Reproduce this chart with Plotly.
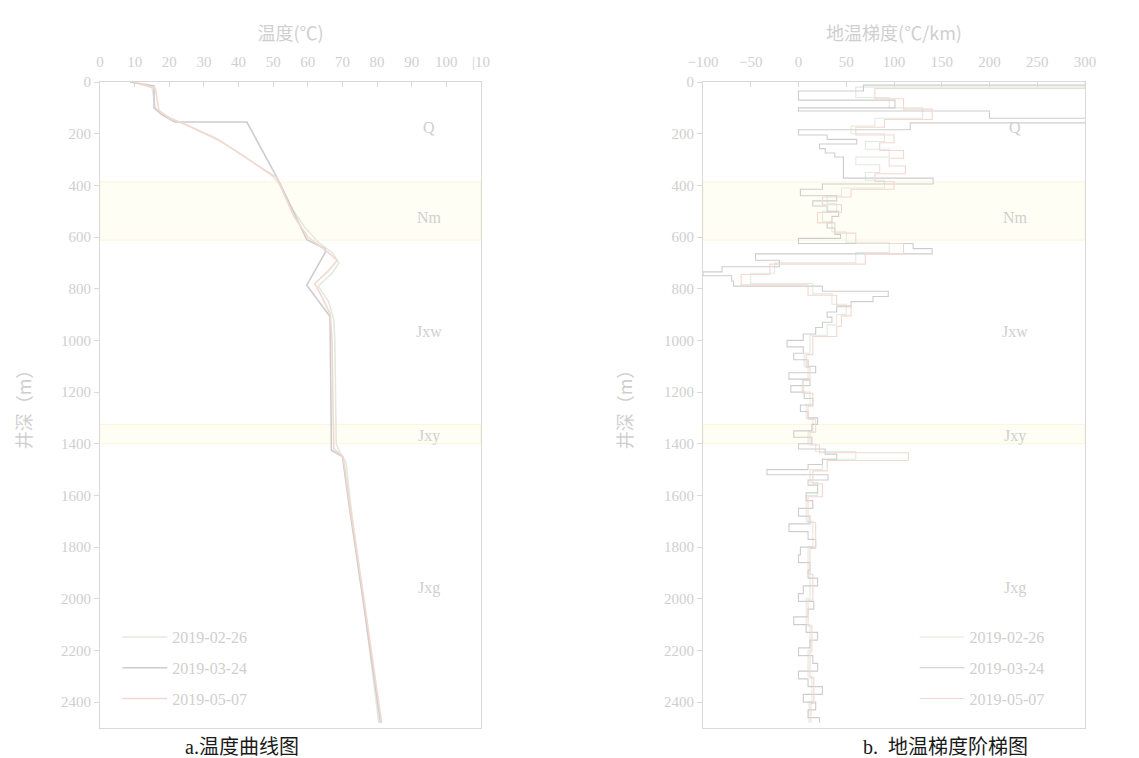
import plotly.graph_objects as go

# ---------------- data ----------------
series_names = ["2019-02-26", "2019-03-24", "2019-05-07"]

# temperature curves (depth m, temperature C)
temp_d_0226 = [0, 20, 100, 130, 150, 212, 290, 366, 400, 480, 560, 620, 660, 700, 740, 790, 850, 920, 1000, 1200, 1400, 1440, 1470, 1650, 2000, 2480]
temp_t_0226 = [9, 15, 16, 19, 22, 32.7, 42, 50, 52, 55, 59, 63, 67, 69, 67, 63, 66, 67.5, 67.8, 68, 68.2, 69.5, 71, 72.5, 76, 80.5]

temp_d_0324 = [0, 15, 100, 128, 155, 155, 380, 610, 645, 660, 786, 908, 1000, 1200, 1425, 1450, 1645, 2000, 2480]
temp_t_0324 = [8.7, 15.6, 15.6, 18, 21.6, 42.4, 51.5, 59.7, 65, 65, 59.7, 66.4, 66.5, 66.6, 66.8, 70, 72, 75.9, 81]

temp_d_0507 = [0, 25, 110, 140, 160, 230, 310, 370, 430, 520, 600, 650, 690, 730, 780, 830, 900, 1000, 1200, 1420, 1450, 1650, 2000, 2480]
temp_t_0507 = [10, 16, 17, 20, 24, 35, 44, 51, 53, 56, 60, 65, 68.5, 66, 62, 64, 66.5, 67, 67.2, 67.5, 70.2, 72.3, 76.2, 81.3]

# geothermal gradient steps (interval top depth m, gradient C/km); last depth closes the log
grad_d_0324 = [0, 12, 35, 70, 100, 112, 140, 158, 185, 205, 222, 240, 258, 275, 290, 310, 330, 350, 372, 395,
               415, 440, 460, 480, 500, 520, 545, 565, 590, 605, 625, 645, 665, 690, 715, 735, 750, 770, 790, 810,
               830, 850, 870, 890, 910, 930, 950, 975, 1000, 1025, 1050, 1075, 1100, 1125, 1150, 1175, 1200, 1225, 1250, 1275,
               1300, 1325, 1350, 1375, 1400, 1420, 1440, 1460, 1480, 1500, 1520, 1540, 1560, 1590, 1620, 1650, 1680, 1710, 1740, 1770,
               1800, 1830, 1860, 1890, 1920, 1950, 1980, 2010, 2040, 2070, 2100, 2130, 2160, 2190, 2220, 2250, 2280, 2310, 2340, 2370,
               2400, 2430, 2460, 2480]
grad_g_0324 = [350, 68, 0, 101, 0, 200, 350, 117, 0, 30, 61, 22, 28, 38, 47, 47, 47, 47, 141, 25,
               2, 40, 15, 30, 42, 35, 30, 38, 44, 0, 120, 140, -45, -20, -80, -100, -70, -68, 25, 94,
               78, 55, 40, 30, 35, 25, 18, 5, -12, 5, -5, 10, 18, -10, 12, -8, 6, 15, 2, 10,
               20, 14, -5, 14, 0, 28, 40, 25, 10, -33, 31, 10, 20, 8, 15, 0, 12, -10, 10, 18,
               2, 0, 12, 10, 20, 5, 0, 16, 10, -5, 8, 20, 12, 0, 15, 20, 0, 10, 25, 5,
               18, 10, 22]

grad_d_0226 = [0, 20, 60, 100, 140, 170, 200, 230, 260, 290, 320, 350, 380, 410, 440, 470, 500, 540, 580, 620,
               660, 700, 740, 780, 820, 860, 900, 940, 980, 1050, 1100, 1150, 1200, 1250, 1300, 1350, 1400, 1430, 1460, 1500,
               1550, 1600, 1700, 1800, 1900, 2000, 2100, 2200, 2300, 2400, 2480]
grad_g_0226 = [320, 60, 95, 130, 80, 55, 90, 70, 95, 60, 85, 70, 90, 45, 30, 40, 25, 35, 50, 95,
               60, -25, -50, 15, 35, 50, 40, 30, 12, 6, 10, 4, 12, 8, 15, 10, 18, 60, 25, 12,
               20, 8, 15, 10, 12, 8, 12, 10, 14, 11]

grad_d_0507 = [0, 25, 65, 105, 145, 175, 205, 235, 265, 295, 325, 355, 385, 415, 445, 475, 505, 545, 585, 625,
               665, 705, 745, 785, 825, 865, 905, 945, 985, 1055, 1105, 1155, 1205, 1255, 1305, 1355, 1405, 1435, 1465, 1505,
               1555, 1605, 1705, 1805, 1905, 2005, 2105, 2205, 2305, 2405, 2480]
grad_g_0507 = [300, 80, 110, 140, 90, 60, 100, 85, 110, 95, 112, 80, 100, 55, 25, 45, 20, 38, 60, 110,
               70, -30, -60, 10, 40, 55, 45, 40, 15, 8, 12, 5, 15, 10, 18, 12, 22, 115, 30, 15,
               25, 10, 18, 12, 15, 10, 14, 12, 16, 13]

formations = ["Q", "Nm", "Jxw", "Jxy", "Jxg"]
formation_depth = [175, 525, 965, 1370, 1960]
band_top = [387, 1325]
band_bottom = [612, 1400]

temp_ticks = list(range(0, 111, 10))
temp_ticktext = [str(v) for v in temp_ticks[:-1]] + ["|10"]
depth_ticks = list(range(0, 2401, 200))

# ---------------- style ----------------
colors = ["#e2eadf", "#cdcdcd", "#f3d8d0"]
txt = "#cfcfcf"
axis_col = "#d9d9d9"
font_fam = "Liberation Serif, Noto Sans CJK SC, serif"
cjk_fam = "Liberation Serif, Noto Sans CJK SC"

fig = go.Figure()

temp_d = [temp_d_0226, temp_d_0324, temp_d_0507]
temp_t = [temp_t_0226, temp_t_0324, temp_t_0507]
for i, (name, c, d, t) in enumerate(zip(series_names, colors, temp_d, temp_t)):
    fig.add_trace(go.Scatter(x=t, y=d, mode="lines", name=name, line=dict(color=c, width=1.6),
                             xaxis="x", yaxis="y", legend="legend", legendgroup=f"a{i}"))

grad_d = [grad_d_0226, grad_d_0324, grad_d_0507]
grad_g = [grad_g_0226, grad_g_0324, grad_g_0507]
for i, (name, c, d, g) in enumerate(zip(series_names, colors, grad_d, grad_g)):
    assert len(d) == len(g) + 1
    fig.add_trace(go.Scatter(x=g + [g[-1]], y=d, mode="lines", name=name,
                             line=dict(color=c, width=1.1, shape="vh"),
                             xaxis="x2", yaxis="y2", legend="legend2", legendgroup=f"b{i}"))

# formation bands
for xr, yr in (("x", "y"), ("x2", "y2")):
    for top, bot in zip(band_top, band_bottom):
        fig.add_shape(type="rect", xref=f"{xr} domain", yref=yr, x0=0, x1=1, y0=top, y1=bot,
                      fillcolor="#fffef4", line=dict(color="#fbf5da", width=1), layer="below")

for nm, dep in zip(formations, formation_depth):
    fig.add_annotation(x=95, y=dep, xref="x", yref="y", text=nm, showarrow=False,
                       font=dict(family=font_fam, size=16, color=txt))
    fig.add_annotation(x=227, y=dep, xref="x2", yref="y2", text=nm, showarrow=False,
                       font=dict(family=font_fam, size=16, color=txt))

fig.add_annotation(x=242 / 1139, y=1 - 747 / 758, xref="paper", yref="paper", text="a.温度曲线图",
                   xanchor="center", yanchor="middle", showarrow=False,
                   font=dict(family=cjk_fam, size=20, color="#1a1a1a"))
fig.add_annotation(x=945 / 1139, y=1 - 747 / 758, xref="paper", yref="paper", text="b.  地温梯度阶梯图",
                   xanchor="center", yanchor="middle", showarrow=False,
                   font=dict(family=cjk_fam, size=20, color="#1a1a1a"))

ydom = [1 - 728 / 758, 1 - 82 / 758]
common_x = dict(side="top", showline=True, linecolor=axis_col, mirror=True, ticks="inside", ticklen=5,
                tickcolor=axis_col, showgrid=False, zeroline=False, automargin=False, ticklabelstandoff=8,
                tickfont=dict(family=font_fam, size=15, color=txt))
common_y = dict(autorange=False, range=[2500, 0], tickvals=depth_ticks, showline=True, linecolor=axis_col, mirror=True,
                ticks="outside", ticklen=5, tickcolor=axis_col, showgrid=False, zeroline=False, automargin=False,
                tickfont=dict(family=font_fam, size=15, color=txt))

ytitle_font = dict(family="Noto Sans CJK SC", size=18, color=txt)

fig.update_layout(
    width=1139, height=758, margin=dict(l=0, r=0, t=0, b=0),
    paper_bgcolor="white", plot_bgcolor="white",
    font=dict(family=font_fam, color=txt),
    xaxis=dict(domain=[100 / 1139, 481 / 1139], range=[0, 110], tickvals=temp_ticks, ticktext=temp_ticktext,
               title=dict(text="温度(℃)", font=dict(family="Noto Sans CJK SC", size=18, color=txt), standoff=8),
               anchor="y", **common_x),
    yaxis=dict(domain=ydom, anchor="x", title=dict(text="井深（m）", font=ytitle_font, standoff=24), **common_y),
    xaxis2=dict(domain=[703 / 1139, 1085 / 1139], range=[-100, 300], dtick=50,
                title=dict(text="地温梯度(℃/km)", font=dict(family="Noto Sans CJK SC", size=18, color=txt), standoff=8),
                anchor="y2", **common_x),
    yaxis2=dict(domain=ydom, anchor="x2", title=dict(text="井深（m）", font=ytitle_font, standoff=26), **common_y),
    legend=dict(x=0.103, y=0.182, xanchor="left", yanchor="top", bgcolor="rgba(0,0,0,0)",
                font=dict(family=font_fam, size=16, color=txt), tracegroupgap=7, itemwidth=45),
    legend2=dict(x=0.803, y=0.182, xanchor="left", yanchor="top", bgcolor="rgba(0,0,0,0)",
                 font=dict(family=font_fam, size=16, color=txt), tracegroupgap=7, itemwidth=45),
)

fig.write_html("out.html")
